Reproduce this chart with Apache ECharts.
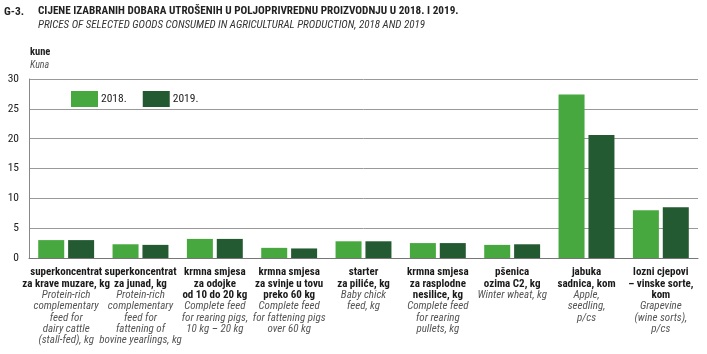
<!DOCTYPE html>
<html>
<head>
  <meta charset="utf-8">
</head>
<body style="margin: 0">
  <div id="container" style="width: 707px; height: 354px"></div>
  <script src="https://cdn.jsdelivr.net/npm/echarts@6/dist/echarts.min.js"></script>
  <script>
    var namesHr = [
      ['superkoncentrat', 'za krave muzare, kg'],
      ['superkoncentrat', 'za junad, kg'],
      ['krmna smjesa', 'za odojke', 'od 10 do 20 kg'],
      ['krmna smjesa', 'za svinje u tovu', 'preko 60 kg'],
      ['starter', 'za piliće, kg'],
      ['krmna smjesa', 'za rasplodne', 'nesilice, kg'],
      ['pšenica', 'ozima C2, kg'],
      ['jabuka', 'sadnica, kom'],
      ['lozni cjepovi', '– vinske sorte,', 'kom']
    ];
    var namesEn = [
      ['Protein-rich', 'complementary', 'feed for', 'dairy cattle', '(stall-fed), kg'],
      ['Protein-rich', 'complementary', 'feed for', 'fattening of', 'bovine yearlings, kg'],
      ['Complete feed', 'for rearing pigs,', '10 kg – 20 kg'],
      ['Complete feed', 'for fattening pigs', 'over 60 kg'],
      ['Baby chick', 'feed, kg'],
      ['Complete feed', 'for rearing', 'pullets, kg'],
      ['Winter wheat, kg'],
      ['Apple,', 'seedling,', 'p/cs'],
      ['Grapevine', '(wine sorts),', 'p/cs']
    ];
    var values2018 = [3.0, 2.3, 3.2, 1.7, 2.8, 2.5, 2.2, 27.4, 8.0];
    var values2019 = [3.0, 2.2, 3.2, 1.6, 2.8, 2.5, 2.3, 20.6, 8.5];
    var yTicks = [0, 5, 10, 15, 20, 25, 30];

    var categories = namesHr.map(function (n, i) { return String(i); });

    var narrow = '"Roboto Condensed", "Open Sans Condensed", sans-serif';

    var chart = echarts.init(document.getElementById('container'), null, { renderer: 'canvas' });

    var option = {
      animation: false,
      textStyle: { fontFamily: narrow },
      grid: { left: 29, right: 9, top: 79, bottom: 96 },
      legend: {
        left: 66, top: 86,
        icon: 'rect',
        itemWidth: 27, itemHeight: 16, itemGap: 16,
        textStyle: { fontFamily: narrow, fontSize: 11.5, color: '#222', padding: [0, 0, 0, -2] },
        data: ['2018.', '2019.']
      },
      graphic: [
        { type: 'text', left: 4, top: 6, style: { text: 'G-3.', font: 'bold 11.5px ' + narrow, fill: '#222' } },
        { type: 'text', left: 38, top: 6, style: { text: 'CIJENE IZABRANIH DOBARA UTROŠENIH U POLJOPRIVREDNU PROIZVODNJU U 2018. I 2019.', font: 'bold 11.2px ' + narrow, fill: '#222' } },
        { type: 'text', left: 38, top: 20, style: { text: 'PRICES OF SELECTED GOODS CONSUMED IN AGRICULTURAL PRODUCTION, 2018 AND 2019', font: 'italic 11px ' + narrow, fill: '#333' } },
        { type: 'text', left: 30, top: 47, style: { text: 'kune', font: 'bold 10.5px ' + narrow, fill: '#222' } },
        { type: 'text', left: 30, top: 60, style: { text: 'Kuna', font: 'italic 10px ' + narrow, fill: '#555' } }
      ],
      xAxis: {
        type: 'category',
        data: categories,
        axisLine: { lineStyle: { color: '#777', width: 1 } },
        axisTick: { show: false },
        axisLabel: {
          interval: 0,
          margin: 9,
          lineHeight: 11.3,
          formatter: function (v) {
            var i = +v;
            var parts = namesHr[i].map(function (s) { return '{b|' + s + '}'; })
              .concat(namesEn[i].map(function (s) { return '{i|' + s + '}'; }));
            return parts.join('\n');
          },
          rich: {
            b: { fontFamily: narrow, fontSize: 11, fontWeight: 'bold', color: '#1a1a1a', lineHeight: 11.3 },
            i: { fontFamily: narrow, fontSize: 11, fontStyle: 'italic', color: '#555', lineHeight: 11.3 }
          }
        }
      },
      yAxis: {
        type: 'value',
        min: 0, max: 30, interval: 5,
        axisLine: { show: true, lineStyle: { color: '#888' } },
        axisTick: { show: false },
        splitLine: { lineStyle: { color: '#999', width: 1 } },
        axisLabel: {
          margin: 10,
          fontFamily: narrow, fontSize: 11.5, color: '#222',
          formatter: function (v) { return yTicks.indexOf(v) >= 0 ? String(v) : ''; }
        }
      },
      series: [
        {
          name: '2018.', type: 'bar', data: values2018,
          barWidth: 26, barGap: '15%',
          itemStyle: { color: '#47a83f' }
        },
        {
          name: '2019.', type: 'bar', data: values2019,
          barWidth: 26,
          itemStyle: { color: '#235a31' }
        }
      ]
    };

    chart.setOption(option);
    window.addEventListener('resize', chart.resize);
  </script>
</body>
</html>
